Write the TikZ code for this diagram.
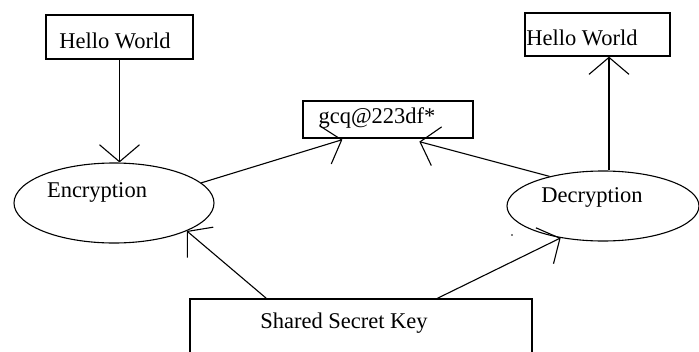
\documentclass[tikz,border=0pt]{standalone}
\usepackage{fontspec}
\setmainfont{Liberation Serif}
\usetikzlibrary{arrows.meta,shapes.geometric,calc}
\begin{document}
\begin{tikzpicture}[x=1pt,y=-1pt,
  line width=1.1pt,
  box/.style={draw, rectangle, inner sep=0pt, line width=1.3pt},
  oval/.style={draw, ellipse, inner sep=0pt, line width=1.1pt},
  lbl/.style={inner sep=0pt, font=\fontsize{22.5}{26}\selectfont, anchor=center},
  arr/.style={-{Straight Barb[length=17pt,width=40pt,line width=1.1pt]}}]
\useasboundingbox (0,0) rectangle (699,351);
% boxes
\node[box, minimum width=147pt, minimum height=44pt] (hw1) at (119.5,37) {};
\node[box, minimum width=145pt, minimum height=43pt] (hw2) at (597.5,34.5) {};
\node[box, minimum width=170pt, minimum height=37pt] (gcq) at (388,119.5) {};
\node[box, minimum width=342pt, minimum height=80pt] (key) at (361,339) {};
\node[oval, minimum width=200pt, minimum height=80pt] (enc) at (114,203) {};
\node[oval, minimum width=192pt, minimum height=70pt] (dec) at (603,206) {};
% labels
\node[lbl] (t1) at (115,41) {Hello World};
\node[lbl] (t2) at (582,38) {Hello World};
\node[lbl] (t3) at (377,118) {gcq@223df*};
\node[lbl] (t4) at (97,192) {Encryption};
\node[lbl] (t5) at (592,197) {Decryption};
\node[lbl] (t6) at (344,323) {Shared Secret Key};
% connector end points
\coordinate (g1) at ($(gcq.south west)+(40,1)$);
\coordinate (g2) at ($(gcq.south west)+(117,3)$);
\coordinate (k1) at ($(key.north west)+(77,0)$);
\coordinate (k2) at ($(key.north west)+(248,0)$);
% connectors
\draw[arr] (hw1.south) -- (hw1.south |- enc.north);
\draw[arr] (enc.13) -- (g1);
\draw[arr] (dec.151) -- (g2);
\draw[arr] ($(dec.north)+(6,0)$) -- ($(hw2.south)+(11.5,0)$);
\draw[arr] (k1) -- (enc.-21);
\draw[arr] (k2) -- (dec.-143);
\fill (512,235) circle (0.9);
\end{tikzpicture}
\end{document}
